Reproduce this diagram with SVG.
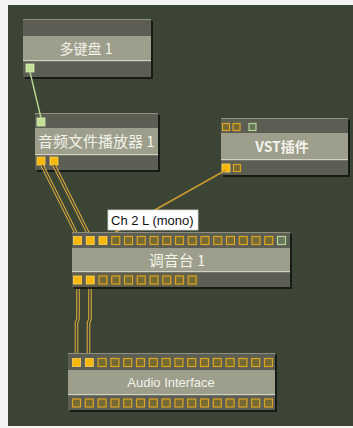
<svg xmlns="http://www.w3.org/2000/svg" width="353" height="428" viewBox="0 0 353 428">
<style>
.shadow{fill:#111410;opacity:0.85}
.row{fill:#5d5e53}
.lab{fill:#9d9f8c}
.edge{fill:#8e8f7e}
.hl{fill:#d2d3c4}
.t{font-family:"Noto Sans CJK SC","Liberation Sans",sans-serif;fill:#f2f2ea;font-size:14px}
.pf{fill:#f6b90a;stroke:#ffd25a;stroke-width:0.8}
.po{fill:#756a33;stroke:#dba522;stroke-width:1.2}
.pg{fill:#c3df98;stroke:#d8efb8;stroke-width:0.8}
.pgo{fill:#66765a;stroke:#b3d494;stroke-width:1.2}
.dbl{fill:none;stroke:#dcaa40;stroke-width:3.6}
.dblc{fill:none;stroke:#3c4535;stroke-width:1.5}
</style>
<defs>
<rect id="p8" width="8" height="8"/>
<rect id="p7" width="7" height="7"/>
</defs>
<rect width="353" height="428" fill="#f3f3f1"/>
<rect x="8" y="5" width="345" height="421" fill="#3c4535"/>

<g id="node-keyboard">
<rect class="shadow" x="25" y="21" width="128" height="58"/>
<rect class="row" x="23" y="19" width="128" height="58"/>
<rect class="edge" x="23" y="19" width="128" height="1"/>
<rect class="lab" x="23" y="36" width="128" height="25"/>
<rect class="hl" x="23" y="60" width="128" height="1.2"/>
<text class="t" x="86" y="53.5" text-anchor="middle">多键盘 1</text>
<use href="#p8" class="pg" x="26" y="64"/>
</g>

<g id="node-player">
<rect class="shadow" x="37" y="115" width="123" height="57"/>
<rect class="row" x="35" y="113" width="123" height="57"/>
<rect class="edge" x="35" y="113" width="123" height="1"/>
<rect class="lab" x="35" y="128" width="123" height="27"/>
<rect class="hl" x="35" y="154" width="123" height="1.2"/>
<text class="t" x="38" y="147" style="font-size:15px">音频文件播放器 1</text>
<use href="#p8" class="pg" x="37" y="118"/>
<use href="#p8" class="pf" x="37" y="157"/>
<use href="#p8" class="pf" x="50" y="157"/>
</g>

<g id="node-vst">
<rect class="shadow" x="223" y="120" width="127" height="57"/>
<rect class="row" x="221" y="118" width="127" height="57"/>
<rect class="edge" x="221" y="118" width="127" height="1"/>
<rect class="lab" x="221" y="133" width="127" height="27"/>
<rect class="hl" x="221" y="159" width="127" height="1.2"/>
<text class="t" x="282" y="152" text-anchor="middle" style="font-weight:bold">VST插件</text>
<use href="#p7" class="po" x="222.5" y="123.5"/>
<use href="#p7" class="po" x="233" y="123.5"/>
<use href="#p7" class="pgo" x="249" y="123.5"/>
<use href="#p8" class="pf" x="222" y="164"/>
<use href="#p7" class="po" x="233.5" y="164.5"/>
</g>

<g id="connectors">
<line x1="30" y1="72" x2="41" y2="118" stroke="#b9d892" stroke-width="1.4"/>
<line x1="226" y1="170" x2="105" y2="238" stroke="#c99a2e" stroke-width="1.5"/>
<path class="dbl" d="M42 165 L78 237 M54 165 L90 237"/>
<path class="dblc" d="M42 165 L78 237 M54 165 L90 237"/>
<path class="dbl" d="M78 284 L78 319 L76.5 323 L76.5 359 M90 284 L90 319 L88.5 323 L88.5 359"/>
<path class="dblc" d="M78 284 L78 319 L76.5 323 L76.5 359 M90 284 L90 319 L88.5 323 L88.5 359"/>
</g>

<g id="node-mixer">
<rect class="shadow" x="74" y="234" width="218" height="55"/>
<rect class="row" x="72" y="232" width="218" height="55"/>
<rect x="72" y="273" width="127" height="14" fill="#62604a"/>
<rect class="edge" x="72" y="232" width="218" height="1"/>
<rect class="lab" x="72" y="248" width="218" height="24"/>
<rect class="hl" x="72" y="271" width="218" height="1.2"/>
<text class="t" x="177" y="266" text-anchor="middle" style="font-size:15px">调音台 1</text>
<use href="#p8" class="pf" x="73.5" y="236.5"/>
<use href="#p8" class="pf" x="86.25" y="236.5"/>
<use href="#p8" class="pf" x="99" y="236.5"/>
<use href="#p8" class="po" x="111.75" y="236.5"/>
<use href="#p8" class="po" x="124.5" y="236.5"/>
<use href="#p8" class="po" x="137.25" y="236.5"/>
<use href="#p8" class="po" x="150" y="236.5"/>
<use href="#p8" class="po" x="162.75" y="236.5"/>
<use href="#p8" class="po" x="175.5" y="236.5"/>
<use href="#p8" class="po" x="188.25" y="236.5"/>
<use href="#p8" class="po" x="201" y="236.5"/>
<use href="#p8" class="po" x="213.75" y="236.5"/>
<use href="#p8" class="po" x="226.5" y="236.5"/>
<use href="#p8" class="po" x="239.25" y="236.5"/>
<use href="#p8" class="po" x="252" y="236.5"/>
<use href="#p8" class="po" x="264.75" y="236.5"/>
<use href="#p8" class="pgo" x="277.5" y="236.5"/>
<use href="#p8" class="pf" x="73.5" y="276"/>
<use href="#p8" class="pf" x="86.25" y="276"/>
<use href="#p8" class="po" x="99" y="276"/>
<use href="#p8" class="po" x="111.75" y="276"/>
<use href="#p8" class="po" x="124.5" y="276"/>
<use href="#p8" class="po" x="137.25" y="276"/>
<use href="#p8" class="po" x="150" y="276"/>
<use href="#p8" class="po" x="162.75" y="276"/>
<use href="#p8" class="po" x="175.5" y="276"/>
<use href="#p8" class="po" x="188.25" y="276"/>
</g>

<g id="tooltip">
<rect x="108" y="210" width="90" height="20" fill="#ffffff" stroke="#d8d8d8" stroke-width="0.8"/>
<text x="111" y="225" font-family="Liberation Sans, sans-serif" font-size="13" fill="#111">Ch 2 L (mono)</text>
</g>

<g id="node-audio-interface">
<rect class="shadow" x="70" y="355" width="207" height="57"/>
<rect class="row" x="68" y="353" width="207" height="57"/>
<rect class="edge" x="68" y="353" width="207" height="1"/>
<rect class="lab" x="68" y="370" width="207" height="25"/>
<rect class="hl" x="68" y="394" width="207" height="1.2"/>
<text x="171" y="387" text-anchor="middle" font-family="Liberation Sans, sans-serif" font-size="13" fill="#f2f2ea">Audio Interface</text>
<use href="#p8" class="pf" x="72.5" y="358.5"/>
<use href="#p8" class="pf" x="85.3" y="358.5"/>
<use href="#p8" class="po" x="98.1" y="358.5"/>
<use href="#p8" class="po" x="110.9" y="358.5"/>
<use href="#p8" class="po" x="123.7" y="358.5"/>
<use href="#p8" class="po" x="136.5" y="358.5"/>
<use href="#p8" class="po" x="149.3" y="358.5"/>
<use href="#p8" class="po" x="162.1" y="358.5"/>
<use href="#p8" class="po" x="174.9" y="358.5"/>
<use href="#p8" class="po" x="187.7" y="358.5"/>
<use href="#p8" class="po" x="200.5" y="358.5"/>
<use href="#p8" class="po" x="213.3" y="358.5"/>
<use href="#p8" class="po" x="226.1" y="358.5"/>
<use href="#p8" class="po" x="238.9" y="358.5"/>
<use href="#p8" class="po" x="251.7" y="358.5"/>
<use href="#p8" class="po" x="264.5" y="358.5"/>
<use href="#p8" class="po" x="72.5" y="399"/>
<use href="#p8" class="po" x="85.3" y="399"/>
<use href="#p8" class="po" x="98.1" y="399"/>
<use href="#p8" class="po" x="110.9" y="399"/>
<use href="#p8" class="po" x="123.7" y="399"/>
<use href="#p8" class="po" x="136.5" y="399"/>
<use href="#p8" class="po" x="149.3" y="399"/>
<use href="#p8" class="po" x="162.1" y="399"/>
<use href="#p8" class="po" x="174.9" y="399"/>
<use href="#p8" class="po" x="187.7" y="399"/>
<use href="#p8" class="po" x="200.5" y="399"/>
<use href="#p8" class="po" x="213.3" y="399"/>
<use href="#p8" class="po" x="226.1" y="399"/>
<use href="#p8" class="po" x="238.9" y="399"/>
<use href="#p8" class="po" x="251.7" y="399"/>
<use href="#p8" class="po" x="264.5" y="399"/>
</g>
</svg>
